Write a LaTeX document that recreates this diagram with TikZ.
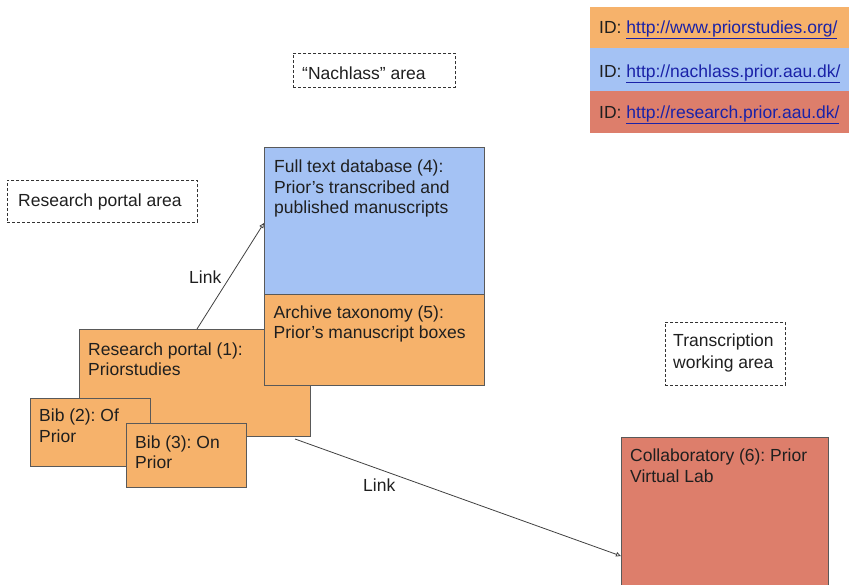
\documentclass[tikz,border=0pt]{standalone}
\usepackage{fontspec}
\setmainfont{Liberation Sans}
\usetikzlibrary{arrows.meta}
\definecolor{orangeL}{HTML}{F6B26B}
\definecolor{blueL}{HTML}{A4C2F4}
\definecolor{redL}{HTML}{DD7E6B}
\definecolor{edgec}{HTML}{595959}
\definecolor{linkblue}{HTML}{1A22A8}
\definecolor{txtc}{HTML}{1F1F1F}
\frenchspacing
\begin{document}
\begin{tikzpicture}[x=1pt,y=-1pt,
 box/.style={draw=edgec, line width=1pt, rectangle, inner sep=0pt, anchor=north west},
 area/.style={draw=black!80, dash pattern=on 3pt off 2pt, line width=0.8pt, rectangle, inner sep=0pt, anchor=north west},
 txt/.style={font=\fontsize{17.5}{20.5}\selectfont, text=txtc, align=left, inner sep=0pt, anchor=north west},
 link/.style={draw=black!75, line width=0.8pt, -{Triangle[open,length=5pt,width=4.5pt]}},
 legendbox/.style={rectangle, inner sep=0pt, anchor=north west, minimum width=259pt}
]
\useasboundingbox (0,0) rectangle (850,585);
\clip (0,0) rectangle (850,585);

% legend
\node[legendbox, fill=orangeL, minimum height=41] (lg1) at (590,7) {};
\node[legendbox, fill=blueL, minimum height=43] (lg2) at (590,48) {};
\node[legendbox, fill=redL, minimum height=42] (lg3) at (590,91) {};
\node[txt] (lg1t) at (599,18.6) {\strut ID: \textcolor{linkblue}{\underline{http://www.priorstudies.org/}}};
\node[txt] (lg2t) at (599,62.6) {\strut ID: \textcolor{linkblue}{\underline{http://nachlass.prior.aau.dk/}}};
\node[txt] (lg3t) at (599,103.6) {\strut ID: \textcolor{linkblue}{\underline{http://research.prior.aau.dk/}}};

% dashed areas
\node[area, minimum width=162, minimum height=34] (na) at (293,53) {};
\node[txt] (nat) at (302,65) {\strut “Nachlass” area};
\node[area, minimum width=190, minimum height=42] (rpa) at (7,180) {};
\node[txt] (rpat) at (18,191.6) {\strut Research portal area};
\node[area, minimum width=120, minimum height=63] (twa) at (665,322) {};
\node[txt, font=\fontsize{17.5}{21.6}\selectfont] (twat) at (673,331.6) {\strut Transcription\\working area};

% research portal
\node[box, fill=orangeL, minimum width=231, minimum height=107] (rp) at (79,329) {};
\node[txt] (rpt) at (88,340.6) {\strut Research portal (1):\\Priorstudies};

% bibs
\node[box, fill=orangeL, minimum width=120, minimum height=68] (b2) at (30,398) {};
\node[txt] (b2t) at (39,407.3) {\strut Bib (2): Of\\Prior};
\node[box, fill=orangeL, minimum width=120, minimum height=64] (b3) at (126,423) {};
\node[txt] (b3t) at (135,433.6) {\strut Bib (3): On\\Prior};

% full text + archive
\node[box, fill=blueL, minimum width=219.5, minimum height=147] (ft) at (264,147) {};
\node[txt] (ftt) at (274,158.3) {\strut Full text database (4):\\Prior’s transcribed and\\published manuscripts};
\node[box, fill=orangeL, minimum width=219.5, minimum height=91] (ar) at (264,294) {};
\node[txt] (art) at (273.5,303.6) {\strut Archive taxonomy (5):\\Prior’s manuscript boxes};

% collaboratory
\node[box, fill=redL, minimum width=207, minimum height=170] (co) at (621,437) {};
\node[txt] (cot) at (630,447.3) {\strut Collaboratory (6): Prior\\Virtual Lab};

% links
\draw[link] ([shift={(118,0)}]rp.north west) -- ([shift={(0,76)}]ft.north west);
\node[txt] (l1) at (189,268.6) {\strut Link};
\draw[link] ([shift={(216,2)}]rp.south west) -- ([shift={(0,119)}]co.north west);
\node[txt] (l2) at (363,477.3) {\strut Link};
\end{tikzpicture}
\end{document}
